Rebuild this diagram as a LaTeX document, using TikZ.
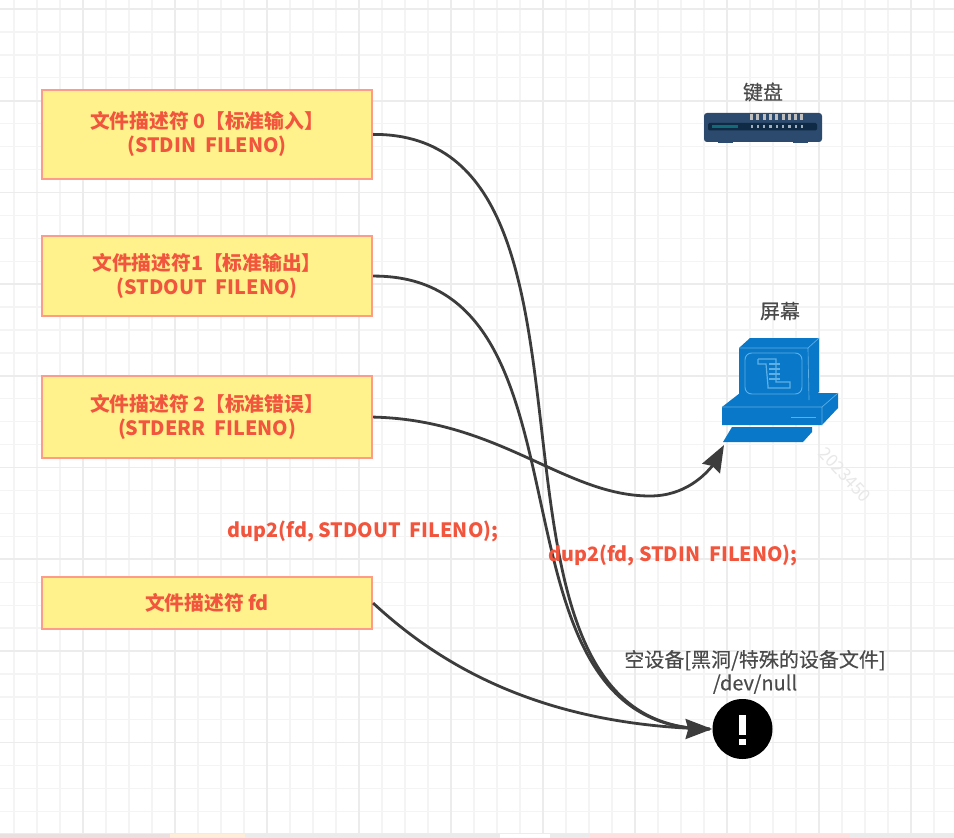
\documentclass[tikz,border=0pt]{standalone}
\usepackage{fontspec}
\setmainfont{Noto Sans CJK SC}
\newfontfamily\lblfont[FakeBold=0.25]{Noto Sans CJK SC}
\usetikzlibrary{arrows.meta}
\definecolor{boxfill}{HTML}{FFF28C}
\definecolor{boxline}{HTML}{FF9C88}
\definecolor{redtxt}{HTML}{F2553D}
\definecolor{lbl}{HTML}{4A4A4A}
\definecolor{wire}{HTML}{3C3C3C}
\definecolor{scr}{HTML}{0A78C8}
\definecolor{scrl}{HTML}{5DB0E6}
\definecolor{kb}{HTML}{2C4A6E}
\definecolor{kbd}{HTML}{0F2A44}
\tikzset{
  x=0.75pt,y=-0.75pt,
  fdbox/.style={draw=boxline,fill=boxfill,line width=1.6pt,minimum width=247.5pt,inner sep=0pt,align=center,text=redtxt,font=\fontsize{14.8}{18}\selectfont\bfseries,anchor=north west},
  redlabel/.style={text=redtxt,font=\fontsize{14.8}{18}\selectfont\bfseries,inner sep=0pt},
  devlabel/.style={text=lbl,font=\fontsize{15}{17.5}\selectfont\lblfont,inner sep=0pt,align=center},
  wirearrow/.style={draw=wire,line width=2.1pt,-{Stealth[length=20pt,width=15pt,inset=2pt]}},
  wireplain/.style={draw=wire,line width=2.1pt},
  minorgrid/.style={draw=black!4.5,line width=1pt},
  majorgrid/.style={draw=black!7.5,line width=1.3pt},
}
\begin{document}
\begin{tikzpicture}
\useasboundingbox (0,0) rectangle (954,838);
\fill[white] (0,0) rectangle (954,838);
% grid
\foreach \i in {0,...,41} {\draw[minorgrid] ({-9+23*\i},0) -- ({-9+23*\i},834);}
\foreach \i in {0,...,36} {\draw[minorgrid] (0,{9+22.93*\i}) -- (954,{9+22.93*\i});}
\foreach \i in {0,...,10} {\draw[majorgrid] ({-9+92*\i},0) -- ({-9+92*\i},834);}
\foreach \i in {0,...,9} {\draw[majorgrid] (0,{9+91.7*\i}) -- (954,{9+91.7*\i});}
% bottom strip
\fill[black!8] (0,834) rectangle (954,838);
\fill[red!30!black!12] (0,834) rectangle (170,838);
\fill[orange!15] (170,834) rectangle (245,838);
\fill[white] (500,834) rectangle (550,838);
\fill[red!12] (590,834) rectangle (850,838);
% boxes
\node[fdbox,minimum height=66.5pt] (fd0) at (41,89) {文件描述符 0【标准输入】\\(STDIN\ \ FILENO)};
\node[fdbox,minimum height=60pt] (fd1) at (41,235) {文件描述符1【标准输出】\\(STDOUT\ \ FILENO)};
\node[fdbox,minimum height=61.5pt] (fd2) at (41,375) {文件描述符 2【标准错误】\\(STDERR\ \ FILENO)};
\node[fdbox,minimum height=39pt] (fd3) at (41,576) {文件描述符 fd};
\node[text=black!9,rotate=-47,font=\fontsize{13}{15}\selectfont,inner sep=0pt] (wm) at (845,475) {2023450};
% keyboard icon
\fill[kb,rounded corners=2.2pt] (704,113) rectangle (822,142);
\fill[kb] (718,141) rectangle (733,143.5);
\fill[kb] (793,141) rectangle (808,143.5);
\fill[kbd,rounded corners=1pt] (708,123) rectangle (817,130.5);
\fill[teal!60!kb] (712,125.5) rectangle (738,128.5);
\foreach \i in {0,...,8} {
  \fill[black!25!white] ({750+\i*6.3},114.5) rectangle ++(3,5.5);
  \fill[white!55!kb] ({750.5+\i*6.3},125.5) rectangle ++(2.2,2.5);
}
% screen icon: base
\coordinate (scrtip) at (724,445);
\fill[scr] (722,407) -- (740,393) -- (838,393) -- (838,408) -- (822,425) -- (722,425) -- cycle;
\draw[scrl,line width=0.5pt] (722,407) -- (822,407) -- (838,393) (822,407) -- (822,425);
\draw[scrl,line width=1.2pt] (791,417.5) -- (816,417.5);
\fill[scr] (732,427) -- (812,427) -- (812,432) -- (803,442) -- (723,442) -- cycle;
% screen icon: monitor
\fill[scr] (739,348) -- (750,338) -- (819,338) -- (819,392) -- (809,400) -- (739,400) -- cycle;
\draw[scrl,line width=0.5pt] (739,348) -- (808,348) -- (819,338) (808,348) -- (809,400);
\draw[scrl,line width=0.7pt,rounded corners=5pt] (745,353) rectangle (802,394);
\draw[scrl,line width=0.9pt] (758,359) -- (776,359) -- (776,382) -- (790,382) -- (790,388) -- (768,388) -- (768,386) -- (766,364) -- (758,364) -- (758,359);
\foreach \yy in {364,369,374,379} {\draw[scrl,line width=1.1pt] (769,\yy) -- (780,\yy);}
% null icon
\node[circle,fill=black,minimum size=45pt,inner sep=0pt] (null) at (742.5,729) {};
\fill[white] (739,715) rectangle (746,735);
\fill[white] (739,739) rectangle (746,745);
% connectors
\draw[wireplain] (fd0.east) .. controls (641,133) and (443,730) .. ([xshift=-2pt]null.west);
\draw[wireplain] (fd1.east) .. controls (610,275) and (471,730) .. ([xshift=-2pt]null.west);
\draw[wireplain] (fd3.east) .. controls (440,665) and (540,725) .. ([xshift=-2pt]null.west);
\draw[wireplain] (fd2.east) .. controls (500,420) and (565,496) .. (650,496) .. controls (685,496) and (705,475) .. (713,465);
\draw[wirearrow] (688,729) -- (null.west);
\draw[wirearrow] (713,465) -- (scrtip);
% labels
\node[redlabel] (d1) at (363,531) {dup2(fd, STDOUT\ \ FILENO);};
\node[redlabel] (d2) at (673,555) {dup2(fd, STDIN\ \ FILENO);};
\node[devlabel] (kbl) at (763,92) {键盘};
\node[devlabel] (scl) at (780,311) {屏幕};
\node[devlabel] (nul) at (755,672) {空设备[黑洞/特殊的设备文件]\\/dev/null};
\end{tikzpicture}
\end{document}
